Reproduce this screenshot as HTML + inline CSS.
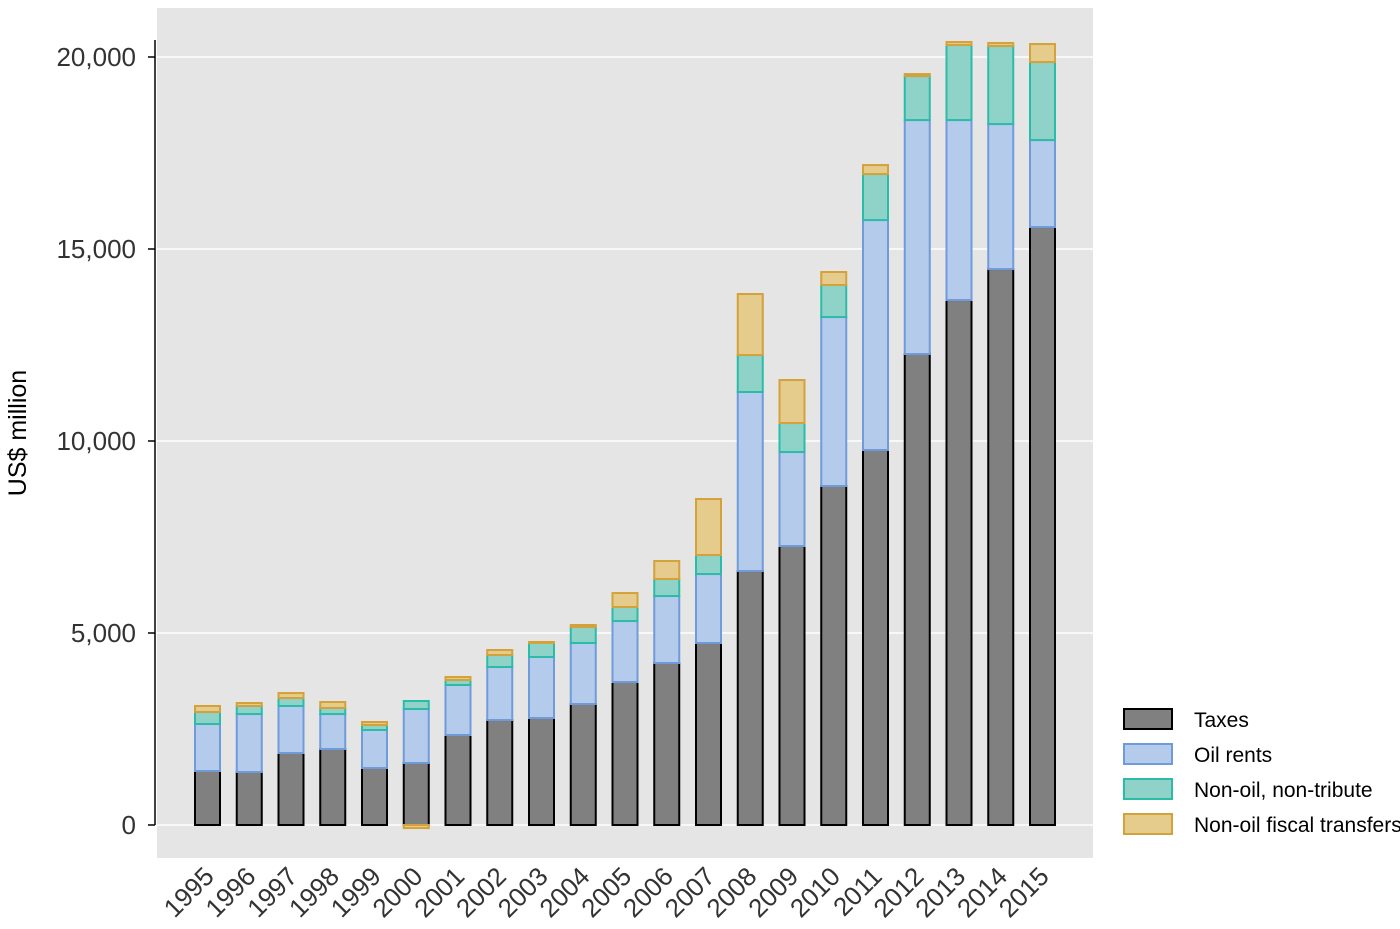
<!DOCTYPE html>
<html><head><meta charset="utf-8"><style>
body{margin:0;background:#fff;font-family:"Liberation Sans",sans-serif}
</style></head><body>
<svg id="c" width="1400" height="924" xmlns="http://www.w3.org/2000/svg">
<rect x="157" y="8" width="936" height="850" fill="#e5e5e5"/>
<g id="grid"></g>
<g id="bars"></g>
<g id="axes"></g>
<text x="26" y="433" transform="rotate(-90 26 433)" text-anchor="middle" font-size="25" fill="#000">US$ million</text>
<g id="legend"></g>
</svg>
<script>
const years=["1995","1996","1997","1998","1999","2000","2001","2002","2003","2004","2005","2006","2007","2008","2009","2010","2011","2012","2013","2014","2015"];
const taxes=[1406,1380,1875,1979,1484,1615,2344,2734,2786,3151,3724,4219,4740,6614,7265,8828,9765,12265,13671,14478,15572];
const oilRents=[1224,1510,1224,911,990,1406,1302,1380,1589,1589,1588,1744,1796,4662,2448,4400,5989,6093,4687,3776,2265];
const nonOil=[313,209,208,157,130,208,130,313,365,416,365,443,495,963,755,834,1198,1146,1954,2032,2032];
const fiscal=[156,78,130,156,78,-80,78,130,26,52,364,469,1458,1589,1120,339,234,52,78,78,469];
const yTicks=[0,5000,10000,15000,20000];
const yTickLabels=["0","5,000","10,000","15,000","20,000"];
const NS="http://www.w3.org/2000/svg";
const y=v=>825-v*768/20000;
const x=i=>207.5+i*41.75;
const BW=25;
function mk(t,a,p){const e=document.createElementNS(NS,t);for(const k in a)e.setAttribute(k,a[k]);p.appendChild(e);return e;}
const grid=document.getElementById('grid'),axes=document.getElementById('axes'),bars=document.getElementById('bars'),leg=document.getElementById('legend');
yTicks.forEach((v,i)=>{
 const g=mk('line',{x1:157,x2:1093,y1:y(v),y2:y(v),stroke:'#fff','stroke-width':1.5},grid);
 
 
 const t=mk('line',{x1:148,x2:155,y1:y(v),y2:y(v),stroke:'#000','stroke-width':1.5},axes);
 
 
 const l=mk('text',{x:136,y:y(v)+9,'text-anchor':'end','font-size':26,fill:'#333'},axes);
 l.textContent=yTickLabels[i];
 
 
});
const ax=mk('line',{x1:155,x2:155,y1:y(20000)-17,y2:825,stroke:'#000','stroke-width':1.5},axes);


const series=[
 {d:taxes,f:'#808080',s:'#000',n:'Taxes',k:'taxes'},
 {d:oilRents,f:'#b5cbeb',s:'#6f9bdb',n:'Oil rents',k:'oil-rents'},
 {d:nonOil,f:'#8fd3c8',s:'#2bbba9',n:'Non-oil, non-tribute',k:'non-oil-non-tribute'},
 {d:fiscal,f:'#e5cb8c',s:'#d4a23a',n:'Non-oil fiscal transfers',k:'non-oil-fiscal-transfers'}];
years.forEach((yr,i)=>{
 let base=0,neg=0;
 series.forEach(s=>{
  const v=s.d[i];let y0,y1;
  if(v>=0){y0=y(base);y1=y(base+v);base+=v;}else{y0=y(neg+v);y1=y(neg);neg+=v;}
  const top=Math.min(y0,y1),h=Math.abs(y0-y1);
  const r=mk('rect',{x:x(i)-BW/2,y:top,width:BW,height:Math.max(h,1),fill:s.f,stroke:s.s,'stroke-width':2},bars);
  
  
 });
 const lx=x(i)+8,ly=878;
 const t=mk('text',{x:lx,y:ly,'text-anchor':'end','font-size':26,fill:'#333',transform:`rotate(-45 ${lx} ${ly})`},axes);
 t.textContent=yr;
 
 
});
series.forEach((s,i)=>{
 const yy=709+i*35;
 const r=mk('rect',{x:1124,y:yy,width:48,height:20,fill:s.f,stroke:s.s,'stroke-width':2},leg);
 
 
 const t=mk('text',{x:1194,y:yy+18,'font-size':21,fill:'#000'},leg);
 t.textContent=s.n;
 
 
});
</script>
</body></html>
